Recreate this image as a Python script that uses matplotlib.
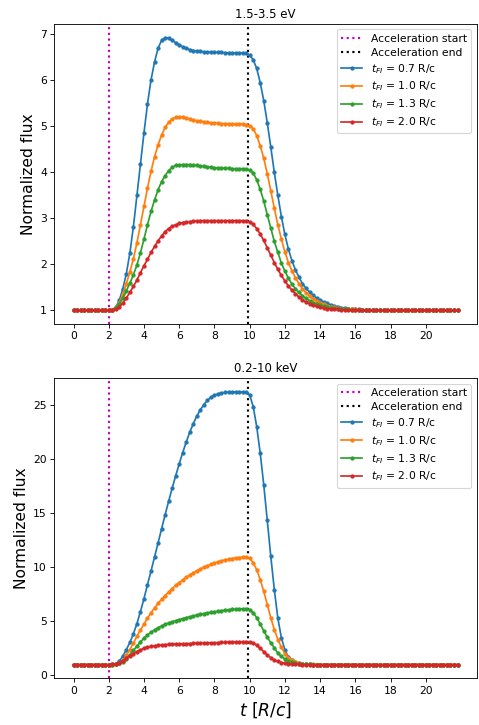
import matplotlib
matplotlib.use('Agg')
import matplotlib.pyplot as plt
import numpy as np

# time grid, sampled every 0.2 R/c
time = np.arange(0, 21.9, 0.2)

t_acc_start = 2.0
t_acc_end = 9.9

t_fi_values = ['0.7', '1.0', '1.3', '2.0']
colors = ['tab:blue', 'tab:orange', 'tab:green', 'tab:red']

# 1.5-3.5 eV band
optical_07 = [
    1.00, 1.00, 1.00, 1.00, 1.00, 1.00, 1.00, 1.00, 1.00, 1.00,
    1.00, 1.01, 1.07, 1.22, 1.47, 1.80, 2.25, 2.82, 3.50, 4.18,
    4.86, 5.49, 6.01, 6.40, 6.70, 6.87, 6.93, 6.92, 6.87, 6.82,
    6.77, 6.73, 6.70, 6.67, 6.65, 6.64, 6.63, 6.62, 6.62, 6.61,
    6.61, 6.61, 6.61, 6.60, 6.60, 6.60, 6.60, 6.60, 6.60, 6.59,
    6.55, 6.45, 6.26, 5.95, 5.56, 5.08, 4.55, 4.00, 3.50, 3.04,
    2.65, 2.33, 2.08, 1.88, 1.72, 1.58, 1.48, 1.40, 1.33, 1.27,
    1.22, 1.18, 1.15, 1.12, 1.10, 1.08, 1.06, 1.05, 1.04, 1.03,
    1.02, 1.02, 1.01, 1.01, 1.01, 1.00, 1.00, 1.00, 1.00, 1.00,
    1.00, 1.00, 1.00, 1.00, 1.00, 1.00, 1.00, 1.00, 1.00, 1.00,
    1.00, 1.00, 1.00, 1.00, 1.00, 1.00, 1.00, 1.00, 1.00, 1.00,
]
optical_10 = [
    1.00, 1.00, 1.00, 1.00, 1.00, 1.00, 1.00, 1.00, 1.00, 1.00,
    1.00, 1.01, 1.06, 1.17, 1.35, 1.58, 1.84, 2.12, 2.47, 2.86,
    3.26, 3.66, 4.02, 4.34, 4.60, 4.81, 4.98, 5.09, 5.16, 5.20,
    5.21, 5.20, 5.18, 5.16, 5.14, 5.12, 5.11, 5.10, 5.09, 5.08,
    5.07, 5.07, 5.06, 5.06, 5.06, 5.05, 5.05, 5.05, 5.05, 5.04,
    5.01, 4.95, 4.80, 4.58, 4.31, 3.97, 3.60, 3.22, 2.86, 2.55,
    2.27, 2.04, 1.86, 1.71, 1.58, 1.47, 1.38, 1.31, 1.25, 1.20,
    1.16, 1.13, 1.10, 1.08, 1.07, 1.05, 1.04, 1.03, 1.03, 1.02,
    1.02, 1.01, 1.01, 1.01, 1.00, 1.00, 1.00, 1.00, 1.00, 1.00,
    1.00, 1.00, 1.00, 1.00, 1.00, 1.00, 1.00, 1.00, 1.00, 1.00,
    1.00, 1.00, 1.00, 1.00, 1.00, 1.00, 1.00, 1.00, 1.00, 1.00,
]
optical_13 = [
    1.00, 1.00, 1.00, 1.00, 1.00, 1.00, 1.00, 1.00, 1.00, 1.00,
    1.00, 1.01, 1.05, 1.14, 1.27, 1.43, 1.59, 1.77, 1.99, 2.25,
    2.55, 2.86, 3.15, 3.40, 3.62, 3.80, 3.93, 4.04, 4.11, 4.15,
    4.16, 4.17, 4.17, 4.17, 4.16, 4.15, 4.14, 4.13, 4.12, 4.11,
    4.10, 4.10, 4.09, 4.09, 4.09, 4.08, 4.08, 4.08, 4.08, 4.07,
    4.05, 3.99, 3.84, 3.63, 3.38, 3.08, 2.79, 2.50, 2.26, 2.03,
    1.85, 1.70, 1.57, 1.47, 1.39, 1.32, 1.26, 1.21, 1.17, 1.14,
    1.11, 1.09, 1.07, 1.06, 1.05, 1.04, 1.03, 1.02, 1.02, 1.01,
    1.01, 1.01, 1.00, 1.00, 1.00, 1.00, 1.00, 1.00, 1.00, 1.00,
    1.00, 1.00, 1.00, 1.00, 1.00, 1.00, 1.00, 1.00, 1.00, 1.00,
    1.00, 1.00, 1.00, 1.00, 1.00, 1.00, 1.00, 1.00, 1.00, 1.00,
]
optical_20 = [
    1.00, 1.00, 1.00, 1.00, 1.00, 1.00, 1.00, 1.00, 1.00, 1.00,
    1.00, 1.01, 1.03, 1.07, 1.16, 1.27, 1.39, 1.52, 1.66, 1.82,
    1.97, 2.11, 2.26, 2.39, 2.51, 2.62, 2.71, 2.78, 2.83, 2.86,
    2.89, 2.91, 2.92, 2.93, 2.94, 2.94, 2.95, 2.95, 2.95, 2.95,
    2.95, 2.95, 2.95, 2.95, 2.95, 2.95, 2.95, 2.95, 2.95, 2.94,
    2.92, 2.87, 2.78, 2.66, 2.52, 2.36, 2.20, 2.04, 1.89, 1.76,
    1.64, 1.53, 1.44, 1.36, 1.29, 1.23, 1.18, 1.14, 1.11, 1.09,
    1.07, 1.05, 1.04, 1.03, 1.02, 1.02, 1.01, 1.01, 1.01, 1.00,
    1.00, 1.00, 1.00, 1.00, 1.00, 1.00, 1.00, 1.00, 1.00, 1.00,
    1.00, 1.00, 1.00, 1.00, 1.00, 1.00, 1.00, 1.00, 1.00, 1.00,
    1.00, 1.00, 1.00, 1.00, 1.00, 1.00, 1.00, 1.00, 1.00, 1.00,
]

# 0.2-10 keV band
xray_07 = [
    1.00, 1.00, 1.00, 1.00, 1.00, 1.00, 1.00, 1.00, 1.00, 1.00,
    1.00, 1.02, 1.10, 1.32, 1.78, 2.40, 3.05, 3.85, 4.80, 5.90,
    7.10, 8.40, 9.65, 10.95, 12.25, 13.55, 14.85, 16.10, 17.30, 18.45,
    19.55, 20.60, 21.58, 22.48, 23.27, 23.97, 24.55, 25.03, 25.42, 25.71,
    25.90, 26.03, 26.10, 26.15, 26.18, 26.19, 26.20, 26.20, 26.20, 26.20,
    25.92, 24.85, 23.00, 20.54, 17.62, 14.33, 11.00, 7.93, 5.30, 3.50,
    2.35, 1.72, 1.40, 1.22, 1.12, 1.07, 1.04, 1.02, 1.01, 1.01,
    1.00, 1.00, 1.00, 1.00, 1.00, 1.00, 1.00, 1.00, 1.00, 1.00,
    1.00, 1.00, 1.00, 1.00, 1.00, 1.00, 1.00, 1.00, 1.00, 1.00,
    1.00, 1.00, 1.00, 1.00, 1.00, 1.00, 1.00, 1.00, 1.00, 1.00,
    1.00, 1.00, 1.00, 1.00, 1.00, 1.00, 1.00, 1.00, 1.00, 1.00,
]
xray_10 = [
    1.00, 1.00, 1.00, 1.00, 1.00, 1.00, 1.00, 1.00, 1.00, 1.00,
    1.00, 1.01, 1.05, 1.16, 1.40, 1.86, 2.40, 3.00, 3.62, 4.20,
    4.75, 5.30, 5.80, 6.25, 6.66, 7.04, 7.39, 7.72, 8.03, 8.32,
    8.59, 8.84, 9.07, 9.29, 9.49, 9.67, 9.84, 10.00, 10.14, 10.27,
    10.39, 10.50, 10.60, 10.68, 10.75, 10.81, 10.86, 10.90, 10.93, 10.95,
    10.85, 10.40, 9.78, 8.86, 7.78, 6.55, 5.33, 4.24, 3.32, 2.61,
    2.00, 1.64, 1.40, 1.25, 1.15, 1.09, 1.05, 1.03, 1.02, 1.01,
    1.00, 1.00, 1.00, 1.00, 1.00, 1.00, 1.00, 1.00, 1.00, 1.00,
    1.00, 1.00, 1.00, 1.00, 1.00, 1.00, 1.00, 1.00, 1.00, 1.00,
    1.00, 1.00, 1.00, 1.00, 1.00, 1.00, 1.00, 1.00, 1.00, 1.00,
    1.00, 1.00, 1.00, 1.00, 1.00, 1.00, 1.00, 1.00, 1.00, 1.00,
]
xray_13 = [
    1.00, 1.00, 1.00, 1.00, 1.00, 1.00, 1.00, 1.00, 1.00, 1.00,
    1.00, 1.01, 1.04, 1.12, 1.28, 1.55, 1.92, 2.32, 2.72, 3.10,
    3.45, 3.75, 4.00, 4.22, 4.41, 4.58, 4.72, 4.85, 4.96, 5.06,
    5.16, 5.25, 5.34, 5.42, 5.50, 5.58, 5.65, 5.72, 5.78, 5.84,
    5.89, 5.94, 5.99, 6.03, 6.07, 6.10, 6.12, 6.14, 6.16, 6.17,
    6.08, 5.80, 5.35, 4.75, 4.12, 3.55, 3.02, 2.56, 2.06, 1.76,
    1.52, 1.34, 1.22, 1.13, 1.08, 1.05, 1.03, 1.02, 1.01, 1.00,
    1.00, 1.00, 1.00, 1.00, 1.00, 1.00, 1.00, 1.00, 1.00, 1.00,
    1.00, 1.00, 1.00, 1.00, 1.00, 1.00, 1.00, 1.00, 1.00, 1.00,
    1.00, 1.00, 1.00, 1.00, 1.00, 1.00, 1.00, 1.00, 1.00, 1.00,
    1.00, 1.00, 1.00, 1.00, 1.00, 1.00, 1.00, 1.00, 1.00, 1.00,
]
xray_20 = [
    1.00, 1.00, 1.00, 1.00, 1.00, 1.00, 1.00, 1.00, 1.00, 1.00,
    1.00, 1.02, 1.08, 1.20, 1.38, 1.60, 1.82, 2.03, 2.21, 2.37,
    2.50, 2.60, 2.68, 2.74, 2.79, 2.82, 2.85, 2.87, 2.89, 2.91,
    2.92, 2.93, 2.94, 2.95, 2.96, 2.97, 2.98, 2.99, 3.00, 3.01,
    3.02, 3.04, 3.05, 3.06, 3.08, 3.09, 3.10, 3.11, 3.12, 3.12,
    3.10, 3.00, 2.80, 2.52, 2.20, 1.90, 1.64, 1.44, 1.30, 1.20,
    1.13, 1.08, 1.05, 1.03, 1.02, 1.01, 1.01, 1.00, 1.00, 1.00,
    1.00, 1.00, 1.00, 1.00, 1.00, 1.00, 1.00, 1.00, 1.00, 1.00,
    1.00, 1.00, 1.00, 1.00, 1.00, 1.00, 1.00, 1.00, 1.00, 1.00,
    1.00, 1.00, 1.00, 1.00, 1.00, 1.00, 1.00, 1.00, 1.00, 1.00,
    1.00, 1.00, 1.00, 1.00, 1.00, 1.00, 1.00, 1.00, 1.00, 1.00,
]

bands = [
    ('1.5-3.5 eV', [optical_07, optical_10, optical_13, optical_20]),
    ('0.2-10 keV', [xray_07, xray_10, xray_13, xray_20]),
]


def plot_band(ax, title, curves):
    ax.axvline(t_acc_start, color='m', linestyle=':', lw=2, label='Acceleration start')
    ax.axvline(t_acc_end, color='k', linestyle=':', lw=2, label='Acceleration end')
    for flux, tfi, c in zip(curves, t_fi_values, colors):
        ax.plot(time, flux, '.-', color=c, ms=6, lw=1.6,
                label=r'$t_{FI}$ = ' + tfi + ' R/c')
    ax.set_title(title, fontsize=11)
    ax.set_ylabel('Normalized flux', fontsize=14.5)
    ax.set_xticks(np.arange(0, 21, 2))
    ax.legend(loc='upper right', fontsize=10, labelspacing=0.38)


def main():
    dpi = 77
    fig, axes = plt.subplots(2, 1, figsize=(479 / dpi, 725 / dpi), dpi=dpi)
    fig.subplots_adjust(left=0.1134, right=0.9952, top=0.9669, bottom=0.0644,
                        hspace=0.181)
    for ax, (title, curves) in zip(axes, bands):
        plot_band(ax, title, curves)
    axes[1].set_xlabel(r'$t\ [R/c]$', fontsize=16)
    fig.savefig('out.png', dpi=dpi)


if __name__ == "__main__":
    main()
